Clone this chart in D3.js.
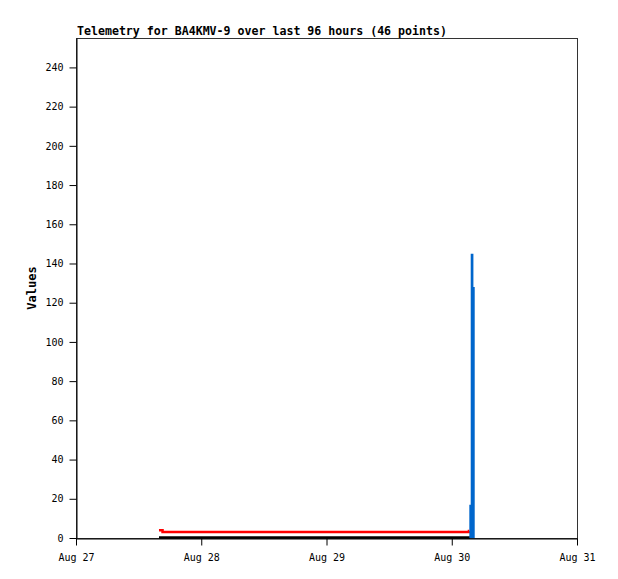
<!DOCTYPE html>
<html><head><meta charset="utf-8">
<script src="https://cdn.jsdelivr.net/npm/d3@7"></script>
<style>body{margin:0;background:#fff}</style>
</head><body>
<svg id="c" width="618" height="579"></svg>
<script>
const titleText = "Telemetry for BA4KMV-9 over last 96 hours (46 points)";
const yLabel = "Values";
const xDomain = ["2025-08-27T00:00", "2025-08-31T00:00"];
const xTickDates = ["2025-08-27T00:00","2025-08-28T00:00","2025-08-29T00:00","2025-08-30T00:00","2025-08-31T00:00"];
const xTickLabels = ["Aug 27","Aug 28","Aug 29","Aug 30","Aug 31"];
const yTicks = [0,20,40,60,80,100,120,140,160,180,200,220,240];
const yMax = 255;

// red series (step)
const redTimes = ["2025-08-27T15:54","2025-08-27T16:35","2025-08-30T03:18","2025-08-30T03:22"];
const redValues = [4, 3, 3.6, 3.6];
// black series (zero line)
const blackTimes = ["2025-08-27T15:54","2025-08-30T03:30"];
const blackValues = [0, 0];
// blue series (step area)
const blueTimes = ["2025-08-30T03:22","2025-08-30T03:38","2025-08-30T04:09","2025-08-30T04:24"];
const blueValues = [17, 145, 128, 128];

const parse = d3.timeParse("%Y-%m-%dT%H:%M");
const svg = d3.select("#c");
const m = {l:76, r:577, t:38, b:538};
const x = d3.scaleTime().domain(xDomain.map(parse)).range([m.l, m.r]);
const y = d3.scaleLinear().domain([0, yMax]).range([m.b, m.t]);
const font = "'DejaVu Sans Mono', monospace";

// frame
svg.append("rect").attr("x", m.l+0.5).attr("y", m.t+0.5).attr("width", m.r-m.l).attr("height", m.b-m.t)
  .attr("fill","none").attr("stroke","#333").attr("stroke-width",1);

// data
const mk = (ts, vs) => ts.map((t,i)=>({t:parse(t), v:vs[i]}));
const red = mk(redTimes, redValues), black = mk(blackTimes, blackValues), blue = mk(blueTimes, blueValues);

svg.append("path").datum(black)
  .attr("d", d3.line().x(d=>x(d.t)).y(d=>y(d.v)-0.5))
  .attr("fill","none").attr("stroke","#000").attr("stroke-width",2.5);

svg.append("path").datum(red)
  .attr("d", d3.line().curve(d3.curveStepAfter).x(d=>x(d.t)).y(d=>y(d.v)))
  .attr("fill","none").attr("stroke","#ff0000").attr("stroke-width",2.5);

svg.append("path").datum(blue)
  .attr("d", d3.area().curve(d3.curveStepAfter).x(d=>x(d.t)).y0(y(0)).y1(d=>y(d.v)))
  .attr("fill","#0066cc").attr("stroke","none");

// axes
const xAxis = d3.axisBottom(x).tickValues(xTickDates.map(parse)).tickFormat((d,i)=>xTickLabels[i]).tickSize(7).tickSizeOuter(0);
const gx = svg.append("g").attr("transform",`translate(0,${m.b+0.5})`).call(xAxis);
gx.select(".domain").attr("stroke","#000");
gx.selectAll("text").attr("font-family",font).attr("font-size","10px").attr("fill","#000").attr("dy","1.2em");

const yAxis = d3.axisLeft(y).tickValues(yTicks).tickSize(7).tickSizeOuter(0);
const gy = svg.append("g").attr("transform",`translate(${m.l+0.5},0)`).call(yAxis);
gy.select(".domain").attr("stroke","#000");
gy.selectAll("text").attr("font-family",font).attr("font-size","10px").attr("fill","#000").attr("x",-13);

// title
svg.append("text").attr("x", 77).attr("y", 35).text(titleText)
  .attr("font-family",font).attr("font-size","11.6px").attr("font-weight","bold");
// y label
svg.append("text").attr("transform",`translate(36,${(m.t+m.b)/2}) rotate(-90)`)
  .attr("text-anchor","middle").text(yLabel)
  .attr("font-family",font).attr("font-size","12px").attr("font-weight","bold");
</script>
</body></html>
